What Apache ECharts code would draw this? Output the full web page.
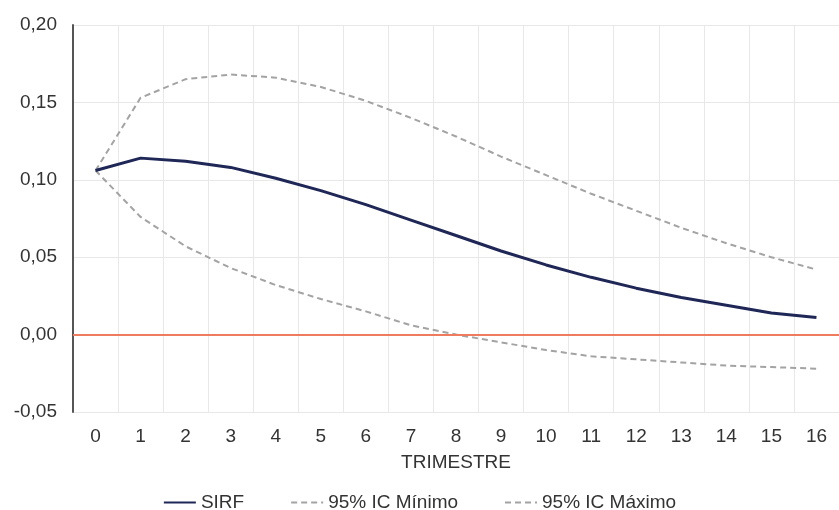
<!DOCTYPE html>
<html>
<head>
<meta charset="utf-8">
<script src="https://cdn.jsdelivr.net/npm/echarts@6/dist/echarts.min.js"></script>
<style>
  html, body { margin: 0; padding: 0; background: #fff; }
  #chart { width: 839px; height: 510px; }
</style>
</head>
<body>
<div id="chart"></div>
<script>
// trimestres 0..16
var trimestres = ['0','1','2','3','4','5','6','7','8','9','10','11','12','13','14','15','16'];
var sirf   = [0.106,0.114,0.112,0.108,0.101,0.093,0.084,0.074,0.064,0.054,0.045,0.037,0.030,0.024,0.019,0.014,0.011];
var icMax  = [0.106,0.153,0.165,0.168,0.166,0.160,0.151,0.140,0.128,0.115,0.103,0.091,0.080,0.069,0.059,0.050,0.042];
var icMin  = [0.106,0.076,0.057,0.043,0.032,0.023,0.015,0.006,0.000,-0.005,-0.010,-0.014,-0.016,-0.018,-0.020,-0.021,-0.022];

var fonte = '"Liberation Sans", Arial, sans-serif';

var chart = echarts.init(document.getElementById('chart'));
var option = {
  backgroundColor: '#ffffff',
  animation: false,
  textStyle: { fontFamily: fonte },
  grid: { left: 73, right: -7, top: 25, bottom: 98 },
  legend: {
    top: 488,
    left: 'center',
    itemGap: 46,
    itemWidth: 32,
    itemHeight: 10,
    itemStyle: { opacity: 0 },
    textStyle: { fontSize: 19, color: '#333', fontFamily: fonte },
    data: ['SIRF', '95% IC Mínimo', '95% IC Máximo']
  },
  xAxis: {
    type: 'category',
    data: trimestres,
    boundaryGap: true,
    name: 'TRIMESTRE',
    nameLocation: 'middle',
    nameGap: 41,
    nameTextStyle: { fontSize: 19, color: '#333' },
    axisLine: { show: false },
    axisTick: { show: false },
    axisLabel: { fontSize: 19, color: '#333', margin: 15 },
    splitLine: { show: true, interval: 0, lineStyle: { color: '#e8e8e8', width: 1 } }
  },
  yAxis: {
    type: 'value',
    min: -0.05,
    max: 0.2,
    interval: 0.05,
    axisLine: { show: true, lineStyle: { color: '#555', width: 2 } },
    axisTick: { show: false },
    axisLabel: {
      fontSize: 19, color: '#333', margin: 16,
      formatter: function (v) { return v.toFixed(2).replace('.', ','); }
    },
    splitLine: { show: true, lineStyle: { color: '#e8e8e8', width: 1 } }
  },
  series: [
    {
      name: 'SIRF',
      type: 'line',
      data: sirf,
      symbol: 'none',
      z: 5,
      lineStyle: { color: '#1f2757', width: 3 },
      itemStyle: { color: '#1f2757' },
      markLine: {
        silent: true,
        symbol: 'none',
        label: { show: false },
        lineStyle: { color: '#ef7b5f', width: 2, type: 'solid' },
        data: [{ yAxis: 0 }]
      }
    },
    {
      name: '95% IC Mínimo',
      type: 'line',
      data: icMin,
      symbol: 'none',
      lineStyle: { color: '#a3a3a3', width: 2, type: [6, 4] },
      itemStyle: { color: '#a3a3a3' }
    },
    {
      name: '95% IC Máximo',
      type: 'line',
      data: icMax,
      symbol: 'none',
      lineStyle: { color: '#a3a3a3', width: 2, type: [6, 4] },
      itemStyle: { color: '#a3a3a3' }
    }
  ]
};
chart.setOption(option);
</script>
</body>
</html>
